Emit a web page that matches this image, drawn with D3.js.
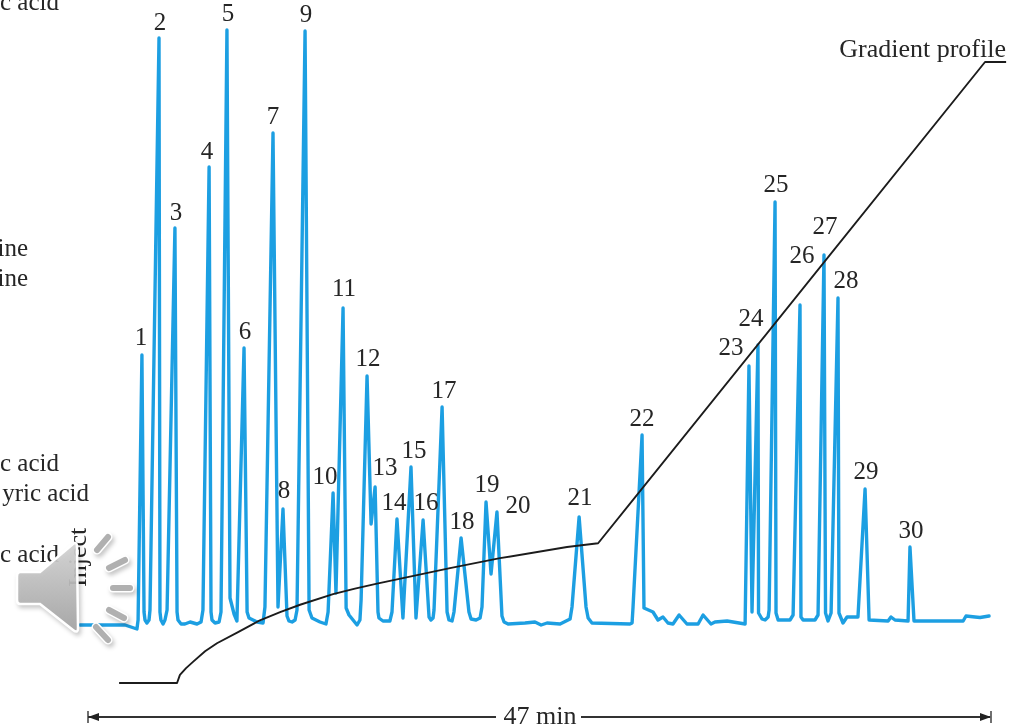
<!DOCTYPE html>
<html><head><meta charset="utf-8">
<script src="https://cdn.jsdelivr.net/npm/d3@7"></script>
<style>html,body{margin:0;background:#fff;overflow:hidden}svg{display:block}text{font-family:"Liberation Serif",serif;fill:#252525}</style>
</head><body><svg id="c" width="1011" height="728"></svg>
<script>
// Detector trace: time (min), signal (arbitrary units)
const traceTime=[-0.42,1.93,2.55,2.61,2.81,2.92,2.97,3.07,3.18,3.23,3.70,3.75,3.80,3.91,4.01,4.12,4.53,4.64,4.69,4.85,5.05,5.32,5.68,5.89,5.99,6.31,6.41,6.46,6.62,6.83,6.93,7.24,7.40,7.61,7.76,8.13,8.29,8.39,8.81,9.12,9.22,9.64,9.90,10.16,10.37,10.47,10.63,10.79,10.89,11.31,11.52,11.67,12.09,12.40,12.51,12.77,12.92,13.29,13.45,13.60,14.02,14.17,14.23,
14.54,14.75,14.96,15.11,15.16,15.37,15.73,15.84,16.10,16.41,16.83,17.09,17.46,17.77,17.87,17.98,18.03,18.45,18.71,18.81,18.97,19.07,19.44,19.85,19.96,20.22,20.43,20.53,20.74,21.00,21.31,21.57,21.68,21.89,22.77,23.29,23.61,23.92,24.60,25.12,25.22,25.59,25.95,26.06,26.26,28.24,28.35,28.40,28.87,28.97,29.44,29.70,29.96,30.22,30.48,30.80,31.21,31.79,32.05,32.46,32.67,33.30,34.24,34.44,34.60,34.91,34.94,35.12,35.28,35.44,35.49,35.80,35.85,35.96,36.58,36.74,37.10,37.15,37.26,37.88,38.04,38.35,38.43,38.56,38.72,39.08,39.13,39.34,39.55,40.12,40.49,40.70,41.69,41.84,42.05,42.73,42.83,43.04,45.60,45.75,46.22,46.48,46.95];
const traceSignal=[0,0,-0.8,1,54,2.6,1,0.4,1,3,117.4,2.6,1,0.2,1,3,79.4,2.6,1,0.2,0.2,0.6,0.2,0.6,3,91.6,2.6,1,0.4,0.6,2.6,119,5.4,2.2,0.8,55.4,2.6,1.4,0.6,0.4,3.6,98.4,3.6,23.2,1.8,0.8,0.6,1,3,118.8,3,1.4,0.6,0.2,2.6,26.4,6.4,63.4,3.4,2,0,1,5,
49.8,20.2,27.6,2.6,1.4,0.8,0.8,2.6,21.2,1.4,31.6,1.4,21,1.6,1,1.4,3,43.6,2.6,1,0.8,2.6,17.4,2.6,1.2,1,1.4,3.6,24.6,10.2,22.6,1.8,0.6,0.2,0.4,0.6,0,0.4,0.2,1.2,3.6,21.6,3.6,1.4,0.4,0.2,0.4,3.6,38,3.4,2.6,1,1.6,0.4,0.2,2,0.2,0.2,2,0.2,0.6,0.8,0.2,51.8,2.6,56,2.4,1.2,1,1.6,3,84.6,2.4,1,1,2,64,1.6,1,1,2,74,2.4,0.8,2.4,65.4,2.4,0.4,1.6,1.6,27.2,1,0.8,1.6,1,0.8,15.6,0.8,0.8,1.8,1.6,1.5,1.8];
// Solvent gradient: time (min), % strong solvent
const gradTime=[1.62,4.64,4.79,5.11,5.47,6.10,6.72,7.82,8.96,10.01,11.05,12.77,13.91,15.06,18.86,21.47,24.96,26.58,46.74,47.84];
const gradPct=[0,0,1.3,2.4,3.4,5.1,6.4,8.2,10.1,11.4,12.6,14.3,15.2,16.0,18.5,20.1,21.9,22.5,100,100];
// Numbered peaks
const peakNames=d3.range(1,31).map(String);
const peakTime=[2.81,3.70,4.53,6.31,7.24,8.13,9.64,10.16,11.31,12.77,13.29,14.54,14.96,16.10,16.83,17.46,18.45,19.44,20.74,21.31,25.59,28.87,34.44,34.91,35.80,37.10,38.35,39.08,40.49,42.83];
const peakSignal=[54,117.4,79.4,91.6,119,55.4,98.4,23.2,118.8,26.4,63.4,49.8,27.6,21.2,31.6,21,43.6,17.4,24.6,22.6,21.6,38,51.8,56,84.6,64,74,65.4,27.2,15.6];
const labelShiftX=[-1,1,1,-2,1,1,0,1,1,-8,1,1,10,-3,3,3,2,1,1,21,1,0,-18,-7,1,2,1,8,1,1];
const labelShiftY=[-10,-8,-8,-8,-9,-9,-9,-11,-9,-9,-12,-10,-12,-9,-9,-10,-9,-9,-10,1,-12,-9,-11,-19,-10,-42,-21,-10,-10,-9];
// Compound names, cut off at the left edge of the picture
const sideNames=["c acid","ine","ine","c acid","yric acid","c acid"];
const sideBase=[10,256,286,471,501,562];
const sideRight=[59,28,28,59,89,59];

const svg=d3.select("#c");
const defs=svg.append("defs");
defs.append("filter").attr("id","soft").attr("x",0).attr("y",0)
  .attr("filterUnits","userSpaceOnUse").attr("width",1011).attr("height",728)
  .append("feGaussianBlur").attr("stdDeviation",0.45);
const root=svg.append("g").attr("filter","url(#soft)");
root.append("rect").attr("width",1011).attr("height",728).attr("fill","#fff");

const x=d3.scaleLinear().domain([0,47]).range([88,990]);
const y=d3.scaleLinear().domain([0,120]).range([625,25]);
const yG=d3.scaleLinear().domain([0,100]).range([683,62]);
const FS=26;

root.selectAll("text.side").data(sideNames).join("text").attr("class","side")
  .attr("x",(d,i)=>sideRight[i]).attr("y",(d,i)=>sideBase[i]).attr("text-anchor","end")
  .attr("font-size",FS-1).text(d=>d);

root.append("text").attr("transform","translate(86,587) rotate(-90)").attr("font-size",FS).text("Inject");

root.append("path").datum(d3.range(traceTime.length))
  .attr("d",d3.line().x(i=>x(traceTime[i])).y(i=>y(traceSignal[i])))
  .attr("fill","none").attr("stroke","#1f9fe2").attr("stroke-width",3.4).attr("stroke-linejoin","round").attr("stroke-linecap","round");

root.append("path").datum(d3.range(gradTime.length))
  .attr("d",d3.line().x(i=>x(gradTime[i])).y(i=>yG(gradPct[i])))
  .attr("fill","none").attr("stroke","#1c1c1c").attr("stroke-width",1.9).attr("stroke-linejoin","round");

root.selectAll("text.peak").data(peakNames).join("text").attr("class","peak")
  .attr("x",(d,i)=>x(peakTime[i])+labelShiftX[i]).attr("y",(d,i)=>y(peakSignal[i])+labelShiftY[i])
  .attr("text-anchor","middle").attr("font-size",FS-1).text(d=>d);

root.append("text").attr("x",1006).attr("y",57).attr("text-anchor","end").attr("font-size",FS).text("Gradient profile");

// Run-length arrow
const ay=717, g=root.append("g").attr("stroke","#333").attr("fill","#222");
g.append("line").attr("x1",x(0)).attr("x2",496).attr("y1",ay).attr("y2",ay).attr("stroke-width",1.8);
g.append("line").attr("x1",581).attr("x2",x(47)).attr("y1",ay).attr("y2",ay).attr("stroke-width",1.8);
g.append("line").attr("x1",x(0)).attr("x2",x(0)).attr("y1",ay-6).attr("y2",ay+6).attr("stroke-width",1.4);
g.append("line").attr("x1",x(47)+1).attr("x2",x(47)+1).attr("y1",ay-6).attr("y2",ay+6).attr("stroke-width",1.4);
g.append("path").attr("stroke","none").attr("d",d3.line()([[x(0),ay],[x(0)+11,ay-4],[x(0)+11,ay+4]]));
g.append("path").attr("stroke","none").attr("d",d3.line()([[x(47)+1,ay],[x(47)-10,ay-4],[x(47)-10,ay+4]]));
root.append("text").attr("x",540).attr("y",724).attr("text-anchor","middle").attr("font-size",FS).text("47 min");

// Speaker overlay icon
const lg=defs.append("linearGradient").attr("id","sp").attr("x1",0).attr("y1",0).attr("x2",0).attr("y2",1);
lg.append("stop").attr("offset",0).attr("stop-color","#d4d4d4");
lg.append("stop").attr("offset",1).attr("stop-color","#a4a4a4");
const sp=root.append("g").style("filter","drop-shadow(2px 3px 2px rgba(0,0,0,.22))");
sp.append("path").attr("d","M20,572 L40,572 L73,544 Q77,541 77,547 L78,628 Q78,634 73,630 L40,604 L20,604 Q17,604 17,600 L17,576 Q17,572 20,572Z")
  .attr("fill","url(#sp)").attr("stroke","#fff").attr("stroke-width",2.5).attr("fill-opacity",0.92);
const dashes=[[97,550,108,537],[109,568,125,560],[113,588,130,588],[109,610,124,618],[96,627,108,640]];
dashes.forEach(d=>{
  sp.append("line").attr("x1",d[0]).attr("y1",d[1]).attr("x2",d[2]).attr("y2",d[3]).attr("stroke","#fff").attr("stroke-width",9).attr("stroke-linecap","round");
  sp.append("line").attr("x1",d[0]).attr("y1",d[1]).attr("x2",d[2]).attr("y2",d[3]).attr("stroke","#b0b0b0").attr("stroke-width",6).attr("stroke-linecap","round");
});
</script></body></html>
